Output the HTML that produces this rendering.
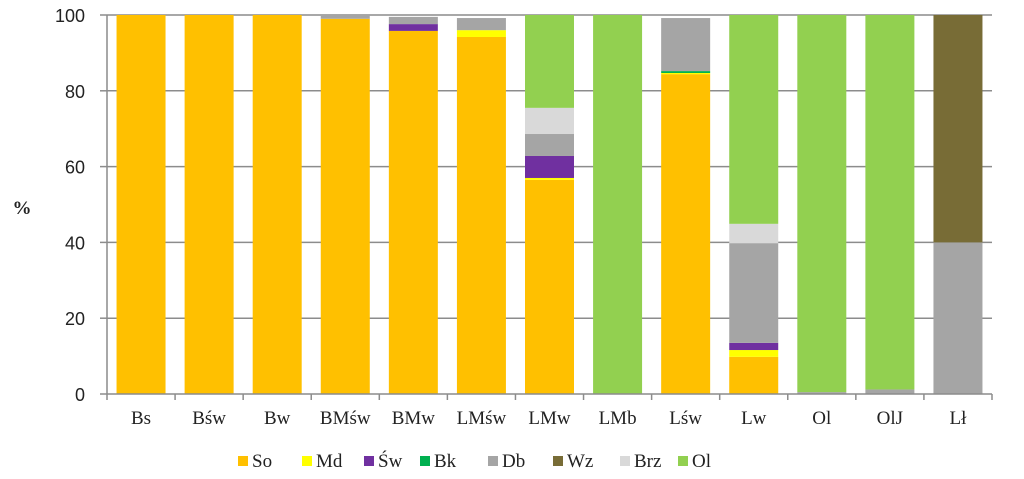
<!DOCTYPE html>
<html><head><meta charset="utf-8"><style>
html,body{margin:0;padding:0;background:#fff;width:1024px;height:479px;overflow:hidden}
svg{display:block}
.yt{font-family:"Liberation Sans",sans-serif;font-size:18px;fill:#222}
.xt{font-family:"Liberation Serif",serif;font-size:19px;fill:#222}
</style></head><body>
<svg id="chart" width="1024" height="479" xmlns="http://www.w3.org/2000/svg"></svg>
<script>
const categories=["Bs","Bśw","Bw","BMśw","BMw","LMśw","LMw","LMb","Lśw","Lw","Ol","OlJ","Lł"];
const seriesNames=["So","Md","Św","Bk","Db","Wz","Brz","Ol"];
const seriesColors=["#FFC000","#FFFF00","#7030A0","#00B050","#A5A5A5","#786C36","#D9D9D9","#92D050"];
const So =[100,100,100,99,95.8,94.2,56.5,0,84.4,9.8,0,0,0];
const Md =[0,0,0,0,0,1.8,0.5,0,0.3,1.8,0,0,0];
const Sw =[0,0,0,0,1.8,0,5.8,0,0,1.9,0,0,0];
const Bk =[0,0,0,0,0,0,0,0,0.5,0,0,0,0];
const Db =[0,0,0,1,1.9,3.2,5.8,0,14,26.3,0.5,1.2,40];
const Wz =[0,0,0,0,0,0,0,0,0,0,0,0,60];
const Brz=[0,0,0,0,0,0,6.9,0,0,5.1,0,0,0];
const Ol =[0,0,0,0,0,0,24.5,100,0,55.1,99.5,98.8,0];
const series=[So,Md,Sw,Bk,Db,Wz,Brz,Ol];
const yTicks=[0,20,40,60,80,100];

const NS="http://www.w3.org/2000/svg";
const svg=document.getElementById('chart');
const x0=107,x1=992,y0=394,y100=15;
const step=(x1-x0)/categories.length, barW=49;
const y=v=>y0-(v/100)*(y0-y100);
const xc=i=>x0+step*i+step/2;
function mk(t,a){const e=document.createElementNS(NS,t);for(const k in a)e.setAttribute(k,a[k]);svg.appendChild(e);return e;}
// gridlines
yTicks.forEach(t=>{
  if(t>0){const g=mk('line',{x1:x0,x2:x1,y1:y(t),y2:y(t),stroke:'#8c8c8c','stroke-width':1.5});
  
  }
  const tk=mk('line',{x1:x0-7,x2:x0,y1:y(t),y2:y(t),stroke:'#8c8c8c','stroke-width':1.5});
  
  
  const lb=mk('text',{x:85,y:y(t)+7,'text-anchor':'end',class:'yt'});lb.textContent=t;
  
  
});
// bars
categories.forEach((c,i)=>{
  let acc=0;
  series.forEach((s,k)=>{
    const v=s[i]; if(v<=0) return;
    const r=mk('rect',{x:xc(i)-barW/2,y:y(acc+v),width:barW,height:y(acc)-y(acc+v),fill:seriesColors[k]});
    
    
    acc+=v;
  });
  const lb=mk('text',{x:xc(i),y:424,'text-anchor':'middle',class:'xt'});lb.textContent=c;
  
  
});
// axes
const ya=mk('line',{x1:x0,x2:x0,y1:y100,y2:y0,stroke:'#8c8c8c','stroke-width':1.5});


const xa=mk('line',{x1:x0,x2:x1,y1:y0,y2:y0,stroke:'#8c8c8c','stroke-width':1.5});


for(let i=0;i<=categories.length;i++){
  const t=mk('line',{x1:x0+step*i,x2:x0+step*i,y1:y0,y2:y0+6,stroke:'#8c8c8c','stroke-width':1.5});
  
  
}
const yt=mk('text',{x:22,y:214,class:'xt','text-anchor':'middle','font-weight':'bold'});yt.textContent='%';


// legend
const lx=[238,302,364,420,488,553,620,678];
seriesNames.forEach((n,k)=>{
  const r=mk('rect',{x:lx[k],y:456,width:10,height:10,fill:seriesColors[k]});
  
  
  const t=mk('text',{x:lx[k]+14,y:467,class:'xt'});t.textContent=n;
  
  
});
</script>
</body></html>
